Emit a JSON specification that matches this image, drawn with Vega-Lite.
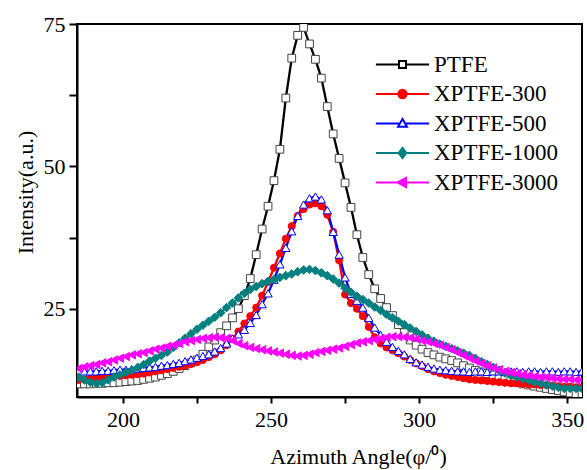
{
 "$schema": "https://vega.github.io/schema/vega-lite/v6.json",
 "width": 505,
 "height": 373,
 "autosize": {"type": "none"},
 "padding": {"left": 77, "top": 24, "right": 5, "bottom": 73},
 "background": "white",
 "config": {
  "font": "Liberation Serif",
  "view": {"stroke": "black", "strokeWidth": 2},
  "axis": {"grid": false, "domainColor": "black", "domainWidth": 2, "tickColor": "black", "tickWidth": 2, "labelColor": "black", "labelFont": "Liberation Serif", "titleFont": "Liberation Serif", "titleColor": "black", "titleFontWeight": "normal", "labelFontSize": 22, "titleFontSize": 22}
 },
 "data": {"values": [
  {"x":185,"PTFE":11.8,"XPTFE-300":12.5,"XPTFE-500":14.0,"XPTFE-1000":13.0,"XPTFE-3000":14.5},
  {"x":187,"PTFE":11.8,"XPTFE-300":12.6,"XPTFE-500":14.0,"XPTFE-1000":12.5,"XPTFE-3000":14.8},
  {"x":189,"PTFE":11.8,"XPTFE-300":12.7,"XPTFE-500":14.0,"XPTFE-1000":12.1,"XPTFE-3000":15.0},
  {"x":191,"PTFE":11.9,"XPTFE-300":12.8,"XPTFE-500":14.0,"XPTFE-1000":11.9,"XPTFE-3000":15.2},
  {"x":193,"PTFE":11.9,"XPTFE-300":12.9,"XPTFE-500":14.1,"XPTFE-1000":12.0,"XPTFE-3000":15.5},
  {"x":195,"PTFE":12.0,"XPTFE-300":13.0,"XPTFE-500":14.1,"XPTFE-1000":12.5,"XPTFE-3000":15.7},
  {"x":197,"PTFE":12.0,"XPTFE-300":13.1,"XPTFE-500":14.2,"XPTFE-1000":13.0,"XPTFE-3000":16.0},
  {"x":199,"PTFE":12.1,"XPTFE-300":13.2,"XPTFE-500":14.3,"XPTFE-1000":13.4,"XPTFE-3000":16.3},
  {"x":201,"PTFE":12.2,"XPTFE-300":13.3,"XPTFE-500":14.3,"XPTFE-1000":13.8,"XPTFE-3000":16.6},
  {"x":203,"PTFE":12.3,"XPTFE-300":13.4,"XPTFE-500":14.4,"XPTFE-1000":14.2,"XPTFE-3000":16.9},
  {"x":205,"PTFE":12.4,"XPTFE-300":13.5,"XPTFE-500":14.5,"XPTFE-1000":14.7,"XPTFE-3000":17.1},
  {"x":207,"PTFE":12.6,"XPTFE-300":13.6,"XPTFE-500":14.6,"XPTFE-1000":15.2,"XPTFE-3000":17.3},
  {"x":209,"PTFE":12.8,"XPTFE-300":13.8,"XPTFE-500":14.7,"XPTFE-1000":15.8,"XPTFE-3000":17.6},
  {"x":211,"PTFE":13.0,"XPTFE-300":14.0,"XPTFE-500":14.8,"XPTFE-1000":16.3,"XPTFE-3000":17.9},
  {"x":213,"PTFE":13.3,"XPTFE-300":14.2,"XPTFE-500":15.0,"XPTFE-1000":16.8,"XPTFE-3000":18.1},
  {"x":215,"PTFE":13.6,"XPTFE-300":14.4,"XPTFE-500":15.1,"XPTFE-1000":17.4,"XPTFE-3000":18.4},
  {"x":217,"PTFE":14.0,"XPTFE-300":14.6,"XPTFE-500":15.3,"XPTFE-1000":18.2,"XPTFE-3000":18.6},
  {"x":219,"PTFE":14.5,"XPTFE-300":14.8,"XPTFE-500":15.5,"XPTFE-1000":19.0,"XPTFE-3000":18.9},
  {"x":221,"PTFE":15.0,"XPTFE-300":15.0,"XPTFE-500":15.8,"XPTFE-1000":19.8,"XPTFE-3000":19.2},
  {"x":223,"PTFE":15.5,"XPTFE-300":15.3,"XPTFE-500":16.1,"XPTFE-1000":20.6,"XPTFE-3000":19.4},
  {"x":225,"PTFE":16.0,"XPTFE-300":15.6,"XPTFE-500":16.4,"XPTFE-1000":21.4,"XPTFE-3000":19.6},
  {"x":227,"PTFE":17.0,"XPTFE-300":16.0,"XPTFE-500":16.7,"XPTFE-1000":22.1,"XPTFE-3000":19.8},
  {"x":229,"PTFE":18.3,"XPTFE-300":16.5,"XPTFE-500":17.0,"XPTFE-1000":22.8,"XPTFE-3000":19.9},
  {"x":231,"PTFE":19.5,"XPTFE-300":17.0,"XPTFE-500":17.5,"XPTFE-1000":23.5,"XPTFE-3000":20.0},
  {"x":233,"PTFE":20.8,"XPTFE-300":17.7,"XPTFE-500":18.1,"XPTFE-1000":24.3,"XPTFE-3000":19.9},
  {"x":235,"PTFE":22.0,"XPTFE-300":18.6,"XPTFE-500":18.9,"XPTFE-1000":25.2,"XPTFE-3000":19.8},
  {"x":237,"PTFE":23.4,"XPTFE-300":19.7,"XPTFE-500":19.8,"XPTFE-1000":26.0,"XPTFE-3000":19.4},
  {"x":239,"PTFE":25.0,"XPTFE-300":21.0,"XPTFE-500":20.5,"XPTFE-1000":26.9,"XPTFE-3000":18.9},
  {"x":241,"PTFE":27.3,"XPTFE-300":22.4,"XPTFE-500":21.3,"XPTFE-1000":27.7,"XPTFE-3000":18.5},
  {"x":243,"PTFE":30.3,"XPTFE-300":23.7,"XPTFE-500":22.5,"XPTFE-1000":28.4,"XPTFE-3000":18.2},
  {"x":245,"PTFE":34.5,"XPTFE-300":25.2,"XPTFE-500":23.9,"XPTFE-1000":28.9,"XPTFE-3000":18.0},
  {"x":247,"PTFE":39.0,"XPTFE-300":27.3,"XPTFE-500":25.8,"XPTFE-1000":29.4,"XPTFE-3000":17.8},
  {"x":249,"PTFE":43.0,"XPTFE-300":29.7,"XPTFE-500":27.7,"XPTFE-1000":29.8,"XPTFE-3000":17.6},
  {"x":251,"PTFE":47.5,"XPTFE-300":32.2,"XPTFE-500":30.1,"XPTFE-1000":30.1,"XPTFE-3000":17.4},
  {"x":253,"PTFE":53.0,"XPTFE-300":34.7,"XPTFE-500":32.8,"XPTFE-1000":30.5,"XPTFE-3000":17.2},
  {"x":255,"PTFE":62.0,"XPTFE-300":37.3,"XPTFE-500":35.7,"XPTFE-1000":30.8,"XPTFE-3000":17.0},
  {"x":257,"PTFE":69.0,"XPTFE-300":39.5,"XPTFE-500":38.6,"XPTFE-1000":31.1,"XPTFE-3000":16.8},
  {"x":259,"PTFE":73.0,"XPTFE-300":41.3,"XPTFE-500":41.3,"XPTFE-1000":31.5,"XPTFE-3000":16.7},
  {"x":261,"PTFE":74.4,"XPTFE-300":42.5,"XPTFE-500":43.3,"XPTFE-1000":31.8,"XPTFE-3000":16.8},
  {"x":263,"PTFE":71.5,"XPTFE-300":43.3,"XPTFE-500":44.4,"XPTFE-1000":31.9,"XPTFE-3000":17.0},
  {"x":265,"PTFE":68.8,"XPTFE-300":43.5,"XPTFE-500":44.7,"XPTFE-1000":31.7,"XPTFE-3000":17.3},
  {"x":267,"PTFE":65.5,"XPTFE-300":43.0,"XPTFE-500":44.2,"XPTFE-1000":31.3,"XPTFE-3000":17.5},
  {"x":269,"PTFE":60.5,"XPTFE-300":41.5,"XPTFE-500":42.3,"XPTFE-1000":30.8,"XPTFE-3000":17.7},
  {"x":271,"PTFE":55.7,"XPTFE-300":38.5,"XPTFE-500":38.5,"XPTFE-1000":30.2,"XPTFE-3000":17.9},
  {"x":273,"PTFE":51.4,"XPTFE-300":33.5,"XPTFE-500":34.5,"XPTFE-1000":29.5,"XPTFE-3000":18.1},
  {"x":275,"PTFE":47.1,"XPTFE-300":27.5,"XPTFE-500":30.5,"XPTFE-1000":28.6,"XPTFE-3000":18.4},
  {"x":277,"PTFE":42.8,"XPTFE-300":26.0,"XPTFE-500":27.6,"XPTFE-1000":27.9,"XPTFE-3000":18.7},
  {"x":279,"PTFE":38.0,"XPTFE-300":25.0,"XPTFE-500":26.4,"XPTFE-1000":27.2,"XPTFE-3000":19.0},
  {"x":281,"PTFE":34.0,"XPTFE-300":23.7,"XPTFE-500":25.2,"XPTFE-1000":26.6,"XPTFE-3000":19.2},
  {"x":283,"PTFE":31.0,"XPTFE-300":21.8,"XPTFE-500":23.4,"XPTFE-1000":26.0,"XPTFE-3000":19.4},
  {"x":285,"PTFE":28.5,"XPTFE-300":20.0,"XPTFE-500":21.7,"XPTFE-1000":25.3,"XPTFE-3000":19.6},
  {"x":287,"PTFE":26.8,"XPTFE-300":18.9,"XPTFE-500":20.4,"XPTFE-1000":24.7,"XPTFE-3000":19.8},
  {"x":289,"PTFE":25.2,"XPTFE-300":18.2,"XPTFE-500":19.2,"XPTFE-1000":24.0,"XPTFE-3000":20.0},
  {"x":291,"PTFE":23.8,"XPTFE-300":17.7,"XPTFE-500":18.3,"XPTFE-1000":23.4,"XPTFE-3000":20.1},
  {"x":293,"PTFE":22.2,"XPTFE-300":17.2,"XPTFE-500":17.6,"XPTFE-1000":22.8,"XPTFE-3000":20.1},
  {"x":295,"PTFE":20.8,"XPTFE-300":16.6,"XPTFE-500":17.0,"XPTFE-1000":22.2,"XPTFE-3000":20.0},
  {"x":297,"PTFE":19.5,"XPTFE-300":16.0,"XPTFE-500":16.2,"XPTFE-1000":21.6,"XPTFE-3000":19.9},
  {"x":299,"PTFE":18.6,"XPTFE-300":15.4,"XPTFE-500":15.6,"XPTFE-1000":21.0,"XPTFE-3000":19.7},
  {"x":301,"PTFE":17.9,"XPTFE-300":14.9,"XPTFE-500":15.2,"XPTFE-1000":20.4,"XPTFE-3000":19.4},
  {"x":303,"PTFE":17.3,"XPTFE-300":14.4,"XPTFE-500":14.8,"XPTFE-1000":19.8,"XPTFE-3000":19.2},
  {"x":305,"PTFE":16.9,"XPTFE-300":14.0,"XPTFE-500":14.5,"XPTFE-1000":19.3,"XPTFE-3000":18.9},
  {"x":307,"PTFE":16.5,"XPTFE-300":13.7,"XPTFE-500":14.3,"XPTFE-1000":18.8,"XPTFE-3000":18.6},
  {"x":309,"PTFE":16.2,"XPTFE-300":13.4,"XPTFE-500":14.2,"XPTFE-1000":18.4,"XPTFE-3000":18.2},
  {"x":311,"PTFE":15.9,"XPTFE-300":13.2,"XPTFE-500":14.1,"XPTFE-1000":18.0,"XPTFE-3000":17.8},
  {"x":313,"PTFE":15.5,"XPTFE-300":13.0,"XPTFE-500":14.0,"XPTFE-1000":17.6,"XPTFE-3000":17.3},
  {"x":315,"PTFE":15.0,"XPTFE-300":12.8,"XPTFE-500":14.0,"XPTFE-1000":17.2,"XPTFE-3000":16.8},
  {"x":317,"PTFE":14.6,"XPTFE-300":12.6,"XPTFE-500":13.9,"XPTFE-1000":16.8,"XPTFE-3000":16.3},
  {"x":319,"PTFE":14.2,"XPTFE-300":12.5,"XPTFE-500":14.0,"XPTFE-1000":16.3,"XPTFE-3000":15.8},
  {"x":321,"PTFE":13.9,"XPTFE-300":12.4,"XPTFE-500":14.0,"XPTFE-1000":15.7,"XPTFE-3000":15.4},
  {"x":323,"PTFE":13.6,"XPTFE-300":12.3,"XPTFE-500":13.9,"XPTFE-1000":15.2,"XPTFE-3000":15.0},
  {"x":325,"PTFE":13.3,"XPTFE-300":12.2,"XPTFE-500":14.0,"XPTFE-1000":14.7,"XPTFE-3000":14.6},
  {"x":327,"PTFE":13.0,"XPTFE-300":12.1,"XPTFE-500":14.0,"XPTFE-1000":14.2,"XPTFE-3000":14.3},
  {"x":329,"PTFE":12.7,"XPTFE-300":12.0,"XPTFE-500":13.9,"XPTFE-1000":13.7,"XPTFE-3000":14.0},
  {"x":331,"PTFE":12.4,"XPTFE-300":11.9,"XPTFE-500":14.0,"XPTFE-1000":13.3,"XPTFE-3000":13.8},
  {"x":333,"PTFE":12.1,"XPTFE-300":11.9,"XPTFE-500":14.0,"XPTFE-1000":13.0,"XPTFE-3000":13.6},
  {"x":335,"PTFE":11.8,"XPTFE-300":11.8,"XPTFE-500":13.9,"XPTFE-1000":12.7,"XPTFE-3000":13.4},
  {"x":337,"PTFE":11.6,"XPTFE-300":11.7,"XPTFE-500":14.0,"XPTFE-1000":12.4,"XPTFE-3000":13.3},
  {"x":339,"PTFE":11.4,"XPTFE-300":11.7,"XPTFE-500":14.0,"XPTFE-1000":12.1,"XPTFE-3000":13.1},
  {"x":341,"PTFE":11.2,"XPTFE-300":11.6,"XPTFE-500":13.9,"XPTFE-1000":11.9,"XPTFE-3000":13.0},
  {"x":343,"PTFE":11.0,"XPTFE-300":11.6,"XPTFE-500":14.0,"XPTFE-1000":11.6,"XPTFE-3000":12.9},
  {"x":345,"PTFE":10.8,"XPTFE-300":11.5,"XPTFE-500":14.0,"XPTFE-1000":11.4,"XPTFE-3000":12.8},
  {"x":347,"PTFE":10.6,"XPTFE-300":11.4,"XPTFE-500":13.9,"XPTFE-1000":11.2,"XPTFE-3000":12.7},
  {"x":349,"PTFE":10.4,"XPTFE-300":11.3,"XPTFE-500":14.0,"XPTFE-1000":11.0,"XPTFE-3000":12.6},
  {"x":351,"PTFE":10.2,"XPTFE-300":11.3,"XPTFE-500":14.0,"XPTFE-1000":11.0,"XPTFE-3000":12.6},
  {"x":353,"PTFE":10.0,"XPTFE-300":11.2,"XPTFE-500":13.9,"XPTFE-1000":11.0,"XPTFE-3000":12.5},
  {"x":355,"PTFE":9.9,"XPTFE-300":11.2,"XPTFE-500":14.0,"XPTFE-1000":11.0,"XPTFE-3000":12.5}
 ]},
 "transform": [{"fold": ["PTFE", "XPTFE-300", "XPTFE-500", "XPTFE-1000", "XPTFE-3000"], "as": ["series", "intensity"]}],
 "encoding": {
  "x": {"field": "x", "type": "quantitative", "scale": {"domain": [184.5, 355], "nice": false, "zero": false},
   "axis": {"values": [200, 225, 250, 275, 300, 325, 350], "labelExpr": "datum.value % 50 == 0 ? datum.label : ''", "tickSize": 6, "labelPadding": 6, "title": "Azimuth Angle(φ/⁰)", "titlePadding": 16, "titleX": 281, "labelFlush": false}},
  "y": {"field": "intensity", "type": "quantitative", "scale": {"domain": [9.5, 75], "nice": false, "zero": false},
   "axis": {"values": [25, 37.5, 50, 62.5, 75], "labelExpr": "datum.value % 25 == 0 ? datum.label : ''", "tickSize": 8, "labelPadding": 4, "title": "Intensity(a.u.)", "titlePadding": 6, "titleY": 168, "labelFlush": false}}
 },
 "layer": [
  {
   "mark": {"type": "line", "strokeWidth": 2.3, "clip": true},
   "encoding": {
    "color": {"field": "series", "type": "nominal",
     "scale": {"domain": ["PTFE", "XPTFE-300", "XPTFE-500", "XPTFE-1000", "XPTFE-3000"], "range": ["#000000", "#ff0000", "#0000ff", "#008080", "#ff00ff"]},
     "legend": {"title": null, "orient": "none", "legendX": 314, "legendY": 29, "padding": 0, "labelFont": "Liberation Serif", "labelFontSize": 23, "labelColor": "black", "symbolSize": 196, "labelOffset": 20, "rowPadding": 5.5, "symbolStrokeWidth": 2, "symbolOpacity": 1}
    }
   }
  },
  {
   "mark": {"type": "point", "opacity": 0, "clip": true},
   "encoding": {
    "shape": {"field": "series", "type": "nominal", "scale": {"domain": ["PTFE", "XPTFE-300", "XPTFE-500", "XPTFE-1000", "XPTFE-3000"], "range": ["M-3.8,0H-0.5M0.5,0H3.8M-0.5,-0.5H0.5V0.5H-0.5Z", "M-3.8,0H3.8M-0.6,0A0.6,0.6,0,1,0,0.6,0A0.6,0.6,0,1,0,-0.6,0Z", "M-3.8,0H-0.38M0.38,0H3.8M0,-0.64L0.64,0.45L-0.64,0.45Z", "M-3.8,0H3.8M0,-0.72L0.55,0L0,0.72L-0.55,0Z", "M-3.8,0H3.8M-0.7,0L0.5,-0.65L0.5,0.65Z"]}, "legend": null},
    "fill": {"field": "series", "type": "nominal", "scale": {"domain": ["PTFE", "XPTFE-300", "XPTFE-500", "XPTFE-1000", "XPTFE-3000"], "range": ["#ffffff", "#ff0000", "#ffffff", "#008080", "#ff00ff"]}, "legend": null},
    "stroke": {"field": "series", "type": "nominal", "scale": {"domain": ["PTFE", "XPTFE-300", "XPTFE-500", "XPTFE-1000", "XPTFE-3000"], "range": ["#000000", "#ff0000", "#0000ff", "#008080", "#ff00ff"]}, "legend": null}
   }
  },
  {
   "transform": [{"filter": {"field": "series", "equal": "PTFE"}}],
   "mark": {"type": "point", "shape": "square", "filled": true, "fill": "#ffffff", "stroke": "#444444", "strokeWidth": 1, "size": 60, "opacity": 1, "clip": true}
  },
  {
   "transform": [{"filter": {"field": "series", "equal": "XPTFE-300"}}],
   "mark": {"type": "point", "shape": "circle", "filled": true, "fill": "#ff0000", "stroke": "#ff0000", "strokeWidth": 1, "size": 50, "opacity": 1, "clip": true}
  },
  {
   "transform": [{"filter": {"field": "series", "equal": "XPTFE-500"}}],
   "mark": {"type": "point", "shape": "triangle-up", "filled": true, "fill": "#ffffff", "stroke": "#0000ff", "strokeWidth": 1, "size": 70, "opacity": 1, "clip": true}
  },
  {
   "transform": [{"filter": {"field": "series", "equal": "XPTFE-1000"}}],
   "mark": {"type": "point", "shape": "diamond", "filled": true, "fill": "#008080", "stroke": "#008080", "strokeWidth": 1, "size": 75, "opacity": 1, "clip": true}
  },
  {
   "transform": [{"filter": {"field": "series", "equal": "XPTFE-3000"}}],
   "mark": {"type": "point", "shape": "triangle-left", "filled": true, "fill": "#ff00ff", "stroke": "#ff00ff", "strokeWidth": 1, "size": 70, "opacity": 1, "clip": true}
  }
 ]
}
